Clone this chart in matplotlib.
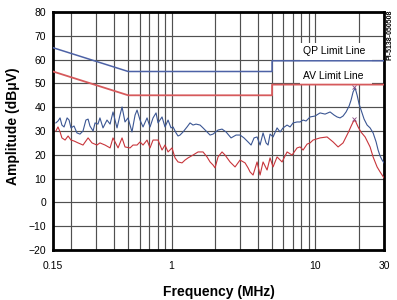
import matplotlib
matplotlib.use("Agg")
import matplotlib.pyplot as plt
from matplotlib.ticker import LogLocator, NullFormatter
from matplotlib.patches import Rectangle

plt.rcParams["font.family"] = ["Liberation Sans", "DejaVu Sans"]

# limit lines (MHz, dBuV)
qp_freq = [0.15, 0.5, 5, 5, 30]
qp_limit = [65, 55, 55, 59.5, 59.5]
av_freq = [0.15, 0.5, 5, 5, 30]
av_limit = [55, 45, 45, 49.5, 49.5]

# measured quasi-peak trace (blue)
qp_meas_freq = [0.157, 0.1625, 0.168, 0.173, 0.179, 0.188, 0.194, 0.200, 0.210, 0.220,
                0.231, 0.2425, 0.254, 0.263, 0.271, 0.285, 0.294, 0.308, 0.318, 0.334,
                0.356, 0.374, 0.392, 0.418, 0.4385, 0.453, 0.475, 0.4985, 0.531, 0.558,
                0.576, 0.604, 0.634, 0.676, 0.709, 0.744, 0.7805, 0.806, 0.859, 0.901,
                0.946, 0.992, 1.025, 1.075, 1.110, 1.146, 1.2025, 1.282, 1.345, 1.411,
                1.481, 1.579, 1.656, 1.766, 1.853, 1.944, 2.106, 2.245, 2.394, 2.594,
                2.810, 2.995, 3.19, 3.405, 3.572, 3.748, 3.933, 4.126, 4.329, 4.542,
                4.690, 4.843, 5.081, 5.417, 5.684, 5.963, 6.358, 6.671, 6.999, 7.462,
                7.829, 8.215, 8.619, 9.189, 9.955, 10.78, 11.68, 12.66, 13.49, 14.16,
                14.85, 15.58, 16.35, 17.16, 17.71, 18.29, 18.89, 19.50, 20.14, 20.79,
                21.81, 22.89, 24.01, 25.20, 26.44, 27.30, 28.18, 29.10, 30.0]
qp_meas = [33.4, 34.2, 35.5, 32.5, 31.7, 35.5, 34.6, 31.3, 32.1, 29.2,
           28.7, 30.0, 34.6, 35.0, 32.1, 30.0, 33.4, 32.9, 35.5, 31.3,
           34.6, 32.9, 38.0, 31.3, 36.7, 40.1, 33.8, 35.5, 29.6, 36.7,
           38.8, 34.6, 31.7, 35.5, 31.7, 35.5, 37.6, 33.4, 35.9, 31.7,
           34.6, 31.3, 31.7, 29.2, 27.9, 28.3, 29.6, 31.7, 33.4, 32.5,
           32.9, 32.5, 31.3, 29.6, 28.3, 28.7, 30.4, 30.8, 29.6, 27.1,
           28.3, 28.3, 27.1, 25.4, 24.1, 27.1, 27.5, 24.1, 29.2, 25.0,
           24.1, 28.7, 27.5, 31.3, 29.6, 31.3, 32.5, 31.7, 33.4, 33.8,
           33.8, 34.6, 34.2, 35.9, 36.3, 37.6, 37.1, 38.0, 36.7, 35.9,
           35.5, 36.3, 38.0, 40.5, 43.0, 46.4, 48.1, 45.1, 41.3, 38.8,
           35.0, 32.5, 31.3, 29.2, 25.4, 22.0, 19.5, 17.8, 16.6]

# measured average trace (red)
av_meas_freq = [0.157, 0.1625, 0.168, 0.173, 0.182, 0.191, 0.200, 0.210, 0.224, 0.2425,
                0.263, 0.280, 0.303, 0.318, 0.345, 0.374, 0.392, 0.425, 0.453, 0.475,
                0.515, 0.540, 0.576, 0.604, 0.634, 0.676, 0.709, 0.744, 0.806, 0.859,
                0.901, 0.946, 1.008, 1.058, 1.110, 1.183, 1.242, 1.303, 1.411, 1.529,
                1.656, 1.766, 1.853, 1.944, 2.007, 2.106, 2.245, 2.356, 2.552, 2.765,
                2.995, 3.245, 3.405, 3.516, 3.689, 3.933, 4.126, 4.329, 4.616, 4.843,
                5.081, 5.417, 5.869, 6.358, 6.888, 7.462, 7.829, 8.215, 8.758, 9.189,
                9.641, 10.78, 12.06, 13.28, 14.39, 15.58, 16.88, 17.71, 18.29, 18.89,
                19.82, 20.79, 22.17, 24.01, 25.20, 26.86, 28.18, 30.0]
av_meas = [30.0, 31.7, 29.6, 27.1, 26.2, 27.9, 26.2, 25.8, 25.0, 24.1,
           27.1, 25.0, 24.1, 25.0, 24.1, 22.9, 27.1, 22.9, 27.1, 23.3,
           22.9, 24.1, 24.1, 25.4, 24.1, 26.2, 22.9, 26.2, 26.2, 22.0,
           24.1, 21.2, 22.9, 18.7, 17.0, 16.6, 17.8, 18.7, 19.9, 21.2,
           21.2, 19.1, 17.0, 15.7, 14.5, 19.1, 21.2, 19.9, 17.0, 14.9,
           17.8, 16.6, 14.5, 12.8, 11.5, 17.0, 11.5, 17.0, 13.6, 18.7,
           14.9, 19.1, 17.0, 21.2, 19.9, 22.9, 23.3, 22.0, 24.5, 25.0,
           26.2, 27.1, 27.5, 25.4, 23.3, 25.0, 29.2, 32.0, 33.8, 34.5,
           31.7, 29.5, 27.5, 23.3, 19.1, 14.9, 12.8, 10.3]

# peak markers
peak_freq = [18.6, 18.6]
peak_val = [48.6, 35.2]

xticks = [0.15, 1, 10, 30]
xtick_labels = ["0.15", "1", "10", "30"]

fig = plt.figure(figsize=(3.97, 3.0), dpi=100)
ax = fig.add_axes([53 / 397, 50 / 300, 331 / 397, 238 / 300])

ax.set_xscale("log")
ax.set_xlim(0.15, 30)
ax.set_ylim(-20, 80)

ax.set_xticks(xticks)
ax.set_xticklabels(xtick_labels)
ax.xaxis.set_minor_locator(LogLocator(base=10, subs=range(2, 10)))
ax.xaxis.set_minor_formatter(NullFormatter())
ax.set_yticks(range(-20, 81, 10))
ax.tick_params(which="both", length=0, labelsize=7.5)
ax.tick_params(axis="x", pad=8)
ax.tick_params(axis="y", pad=5)

ax.grid(True, which="both", color="#505050", linewidth=0.85)
ax.set_axisbelow(True)
for s in ax.spines.values():
    s.set_linewidth(2.0)
    s.set_color("black")

# white box behind legend texts
ax.add_patch(Rectangle((0.746, 0.697), 0.218, 0.173, transform=ax.transAxes,
                       facecolor="white", edgecolor="none", zorder=1.5))

ax.plot(qp_freq, qp_limit, color="#4d62a6", linewidth=1.1, zorder=3)
ax.plot(av_freq, av_limit, color="#d65a5c", linewidth=1.3, zorder=3)
ax.plot(qp_meas_freq, qp_meas, color="#3b5693", linewidth=0.8, zorder=4)
ax.plot(av_meas_freq, av_meas, color="#c8353b", linewidth=0.8, zorder=4)
ax.plot(peak_freq, peak_val, linestyle="none", marker="x", markersize=3,
        markeredgewidth=0.6, color="#8a4a80", zorder=5)

ax.text(0.755, 0.836, "QP Limit Line", transform=ax.transAxes, fontsize=7.5,
        va="center", ha="left", zorder=6)
ax.text(0.755, 0.733, "AV Limit Line", transform=ax.transAxes, fontsize=7.5,
        va="center", ha="left", zorder=6)

ax.set_xlabel("Frequency (MHz)", fontsize=10, fontweight="bold")
ax.xaxis.set_label_coords(0.5, -0.145)
ax.set_ylabel("Amplitude (dB\u03bcV)", fontsize=10, fontweight="bold")
ax.yaxis.set_label_coords(-0.1, 0.52)

fig.text(0.982, 0.883, "PI-5138-050508", rotation=90, fontsize=5,
         fontweight="bold", ha="center", va="center")

fig.savefig("out.png", dpi=100)
plt.close(fig)
